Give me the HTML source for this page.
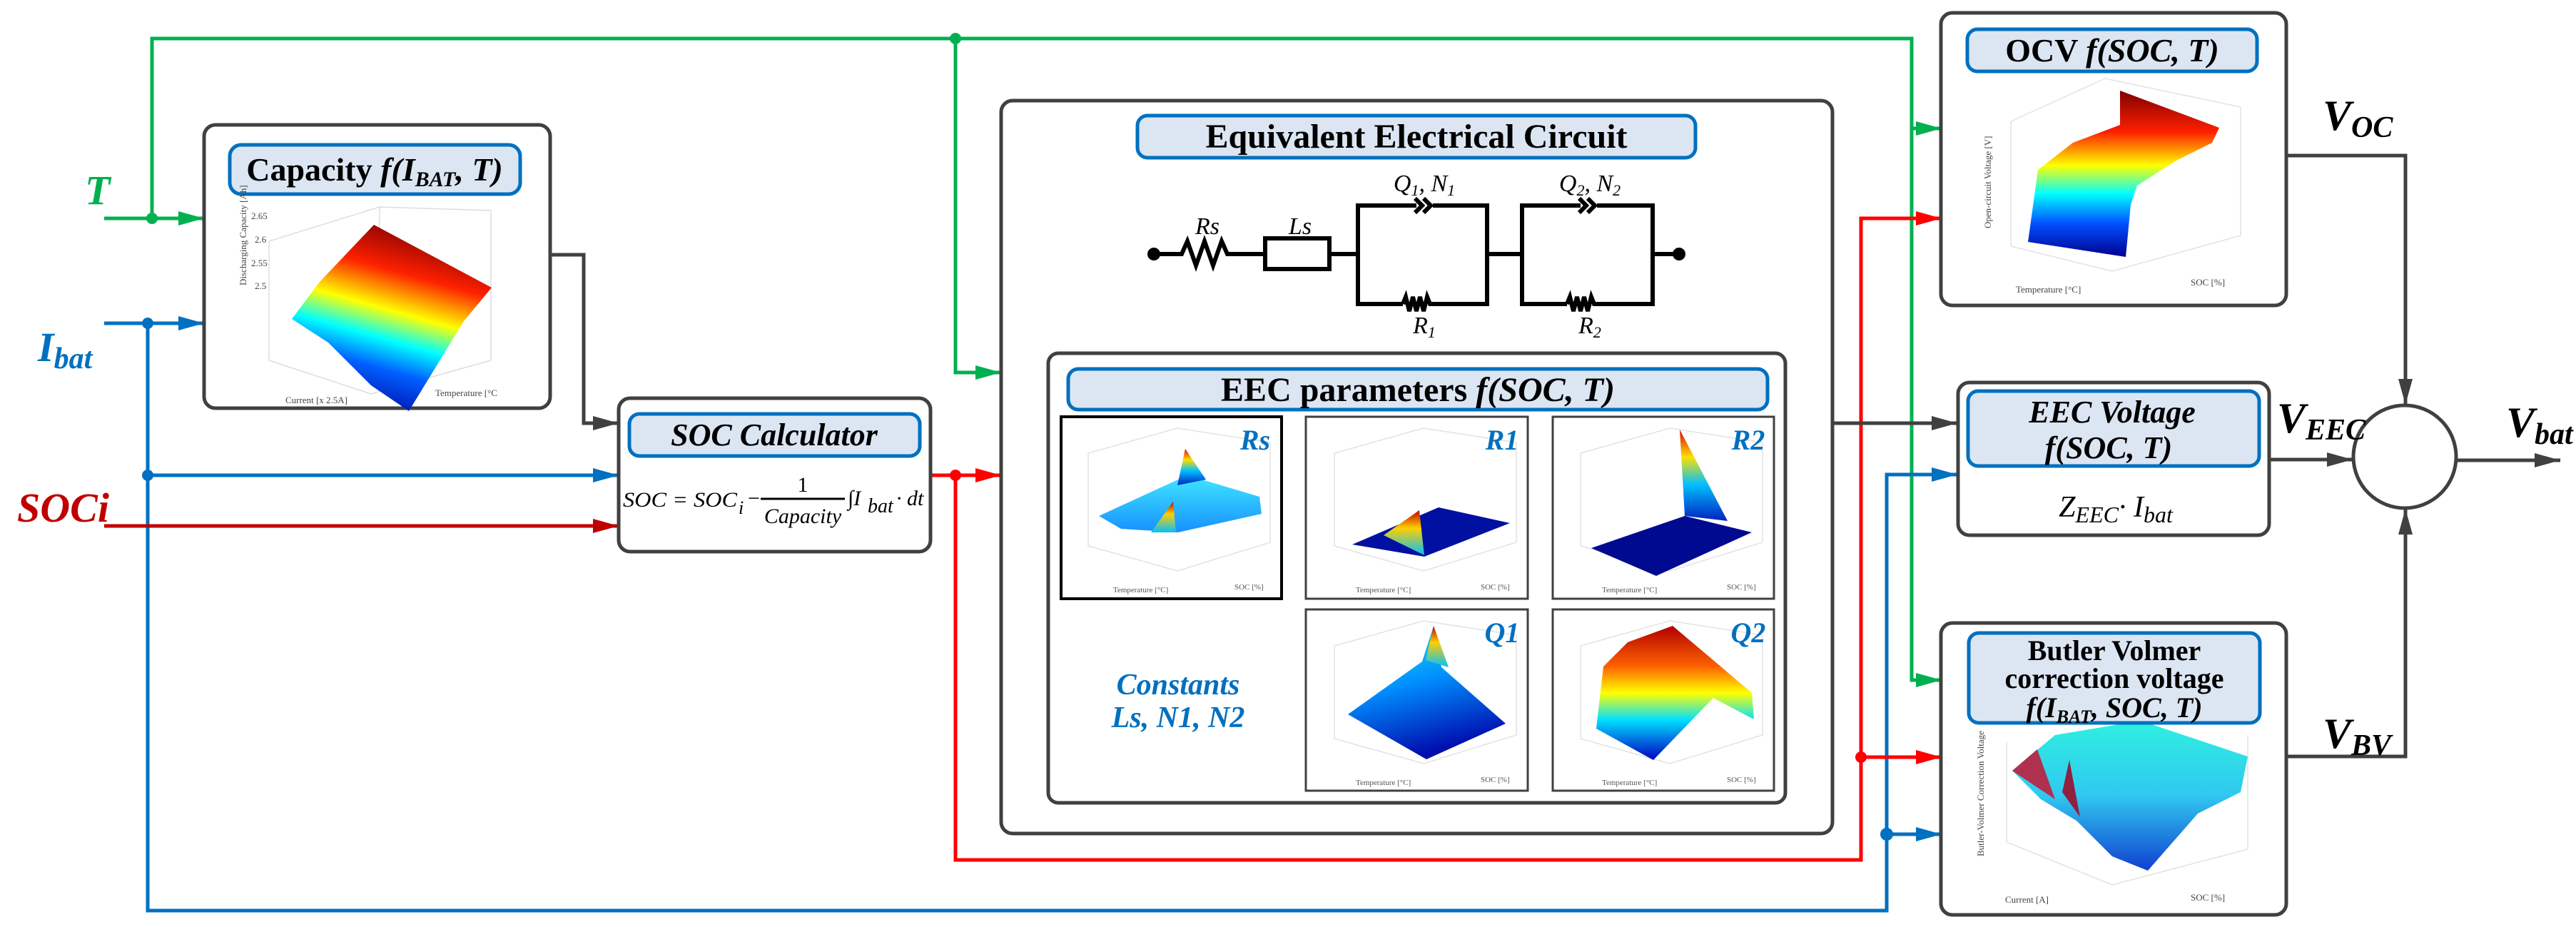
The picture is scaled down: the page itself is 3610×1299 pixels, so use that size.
<!DOCTYPE html>
<html><head><meta charset="utf-8"><style>
html,body{margin:0;padding:0;background:#fff}
svg{display:block}
</style></head><body>
<svg width="3610" height="1299" viewBox="0 0 3610 1299" xmlns="http://www.w3.org/2000/svg" font-family="Liberation Serif, serif">
<defs>
<linearGradient id="jetV" x1="0" y1="1" x2="0" y2="0">
<stop offset="0" stop-color="#00008f"/><stop offset="0.2" stop-color="#0050ff"/><stop offset="0.38" stop-color="#00ffff"/><stop offset="0.55" stop-color="#ffff00"/><stop offset="0.75" stop-color="#ff2000"/><stop offset="1" stop-color="#800000"/></linearGradient>
<linearGradient id="capG" x1="0.3" y1="1" x2="0.6" y2="0">
<stop offset="0" stop-color="#0000a0"/><stop offset="0.25" stop-color="#0060ff"/><stop offset="0.4" stop-color="#00ffff"/><stop offset="0.55" stop-color="#ffff00"/><stop offset="0.75" stop-color="#ff2000"/><stop offset="1" stop-color="#800000"/></linearGradient>
<linearGradient id="cyanG" x1="0" y1="0" x2="0" y2="1"><stop offset="0" stop-color="#40e8ff"/><stop offset="1" stop-color="#1890ff"/></linearGradient>
<linearGradient id="peak" x1="0" y1="0" x2="0" y2="1"><stop offset="0" stop-color="#c00000"/><stop offset="0.4" stop-color="#ffd000"/><stop offset="1" stop-color="#00c0ff"/></linearGradient>
<linearGradient id="spike" x1="0" y1="0" x2="0" y2="1"><stop offset="0" stop-color="#e00000"/><stop offset="0.3" stop-color="#ffe000"/><stop offset="0.6" stop-color="#00c0ff"/><stop offset="1" stop-color="#0020c0"/></linearGradient>
<linearGradient id="q1G" x1="0" y1="0" x2="0.3" y2="1"><stop offset="0" stop-color="#20f0e0"/><stop offset="0.5" stop-color="#0090ff"/><stop offset="1" stop-color="#0010b0"/></linearGradient>
<linearGradient id="q2G" x1="0" y1="0" x2="0" y2="1"><stop offset="0" stop-color="#b00000"/><stop offset="0.3" stop-color="#ff6000"/><stop offset="0.5" stop-color="#ffff00"/><stop offset="0.7" stop-color="#00e0ff"/><stop offset="1" stop-color="#0000c0"/></linearGradient>
<linearGradient id="bvG" x1="0" y1="0" x2="0" y2="1"><stop offset="0" stop-color="#30f0e0"/><stop offset="0.5" stop-color="#30c8f0"/><stop offset="1" stop-color="#1040d0"/></linearGradient>
</defs>

<g fill="none" stroke-width="5" stroke-linejoin="miter">
<polyline points="146,306 286,306" stroke="#00b050"/>
<polyline points="213,306 213,54 2679,54 2679,953 2721,953" stroke="#00b050"/>
<polyline points="2679,180 2721,180" stroke="#00b050"/>
<polyline points="1339,54 1339,522 1403,522" stroke="#00b050"/>
<polyline points="146,453 286,453" stroke="#0070c0"/>
<polyline points="207,453 207,1276 2644,1276 2644,665 2743,665" stroke="#0070c0"/>
<polyline points="207,666 867,666" stroke="#0070c0"/>
<polyline points="2644,1169 2721,1169" stroke="#0070c0"/>
<polyline points="146,737 867,737" stroke="#c00000"/>
<polyline points="1304,666 1403,666" stroke="#ff0000"/>
<polyline points="1339,666 1339,1205 2608,1205 2608,306 2721,306" stroke="#ff0000"/>
<polyline points="2608,1061 2721,1061" stroke="#ff0000"/>
<polyline points="771,357 818,357 818,593 867,593" stroke="#404040"/>
<polyline points="2568,593 2743,593" stroke="#404040"/>
<polyline points="3204,218 3371,218 3371,567" stroke="#404040"/>
<polyline points="3180,644 3297,644" stroke="#404040"/>
<polyline points="3204,1060 3371,1060 3371,713" stroke="#404040"/>
<polyline points="3443,645 3588,645" stroke="#404040"/>
</g>
<g>
<path d="M286,306l-36,-10v20z" fill="#00b050"/>
<path d="M1403,522l-36,-10v20z" fill="#00b050"/>
<path d="M2721,180l-36,-10v20z" fill="#00b050"/>
<path d="M2721,953l-36,-10v20z" fill="#00b050"/>
<path d="M286,453l-36,-10v20z" fill="#0070c0"/>
<path d="M867,666l-36,-10v20z" fill="#0070c0"/>
<path d="M2743,665l-36,-10v20z" fill="#0070c0"/>
<path d="M2721,1169l-36,-10v20z" fill="#0070c0"/>
<path d="M867,737l-36,-10v20z" fill="#c00000"/>
<path d="M1403,666l-36,-10v20z" fill="#ff0000"/>
<path d="M2721,306l-36,-10v20z" fill="#ff0000"/>
<path d="M2721,1061l-36,-10v20z" fill="#ff0000"/>
<path d="M867,593l-36,-10v20z" fill="#404040"/>
<path d="M2743,593l-36,-10v20z" fill="#404040"/>
<path d="M3297,644l-36,-10v20z" fill="#404040"/>
<path d="M3588,645l-36,-10v20z" fill="#404040"/>
<path d="M3371,567l-10,-36h20z" fill="#404040"/>
<path d="M3371,713l-10,36h20z" fill="#404040"/>
<circle cx="213" cy="306" r="8" fill="#00b050"/>
<circle cx="1339" cy="54" r="8" fill="#00b050"/>
<circle cx="207" cy="453" r="8" fill="#0070c0"/>
<circle cx="207" cy="666" r="8" fill="#0070c0"/>
<circle cx="2644" cy="1169" r="9" fill="#0070c0"/>
<circle cx="1339" cy="666" r="8" fill="#ff0000"/>
<circle cx="2608" cy="1061" r="8" fill="#ff0000"/>
</g>

<text x="119" y="286" font-size="58" font-weight="bold" font-style="italic" fill="#00b050">T</text>
<text x="53" y="506" font-size="58" font-weight="bold" font-style="italic" fill="#0070c0">I<tspan font-size="42" dy="10">bat</tspan></text>
<text x="24" y="731" font-size="58" font-weight="bold" font-style="italic" fill="#c00000">SOCi</text>

<rect x="286" y="175" width="485" height="397" rx="16" fill="#fff" stroke="#404040" stroke-width="5"/>
<rect x="322" y="203" width="407" height="69" rx="16" fill="#dce6f2" stroke="#0070c0" stroke-width="5"/>
<text x="525" y="253" font-size="46" font-weight="bold" text-anchor="middle">Capacity <tspan font-style="italic">f(I<tspan font-size="30" dy="8">BAT</tspan><tspan dy="-8">, T)</tspan></tspan></text>
<g stroke="#ddd" stroke-width="1.5" fill="none"><path d="M377,338L377,505 520,552 688,505 688,295"/><path d="M377,338L532,290 688,295"/><path d="M532,290V445"/></g>
<path d="M409,447 L448,395 524,315 689,403 650,450 573,576 520,540 460,480Z" fill="url(#capG)"/>
<g font-size="13" fill="#444"><text x="352" y="307">2.65</text><text x="357" y="340">2.6</text><text x="352" y="373">2.55</text><text x="357" y="405">2.5</text><text x="400" y="565">Current [x 2.5A]</text><text x="610" y="555">Temperature [°C</text><text x="345" y="400" transform="rotate(-90 345 400)">Discharging Capacity [Ah]</text></g>

<rect x="867" y="558" width="437" height="215" rx="16" fill="#fff" stroke="#404040" stroke-width="5"/>
<rect x="882" y="580" width="407" height="59" rx="14" fill="#dce6f2" stroke="#0070c0" stroke-width="5"/>
<text x="1085" y="624" font-size="44" font-weight="bold" font-style="italic" text-anchor="middle">SOC Calculator</text>
<g font-size="30" font-style="italic">
<text x="873" y="710" textLength="160" lengthAdjust="spacingAndGlyphs">SOC  = SOC</text>
<text x="1035" y="720" font-size="26">i</text><text x="1048" y="708" font-style="normal">−</text>
<line x1="1066" y1="699" x2="1184" y2="699" stroke="#000" stroke-width="3"/>
<text x="1125" y="689" font-style="normal" text-anchor="middle">1</text>
<text x="1125" y="733" text-anchor="middle">Capacity</text>
<text x="1188" y="708">∫I</text><text x="1216" y="718" font-size="28">bat</text><text x="1256" y="708"> · dt</text></g>

<rect x="1403" y="141" width="1165" height="1027" rx="16" fill="#fff" stroke="#404040" stroke-width="5"/>
<rect x="1594" y="162" width="782" height="59" rx="14" fill="#dce6f2" stroke="#0070c0" stroke-width="5"/>
<text x="1985" y="207" font-size="48" font-weight="bold" text-anchor="middle">Equivalent Electrical Circuit</text>
<g fill="none" stroke="#000" stroke-width="6" stroke-linejoin="miter">
<path d="M1617,356H1656l8,-18 12,34 12,-34 12,34 12,-34 8,18H1773"/>
<rect x="1773" y="334" width="90" height="43"/>
<path d="M1863,356H1903"/>
<path d="M1985,288H1903V426H1966"/>
<path d="M2008,288H2084V426H2027"/>
<path d="M1966,426l4,-10 5,20 5,-20 5,20 5,-20 5,20 5,-20 4,10H2027"/>
<path d="M1983,278l10,10 -10,10M1995,278l10,10 -10,10"/>
<path d="M2084,356H2133"/>
<path d="M2215,288H2133V426H2196"/>
<path d="M2238,288H2316V426H2257"/>
<path d="M2196,426l4,-10 5,20 5,-20 5,20 5,-20 5,20 5,-20 4,10H2257"/>
<path d="M2213,278l10,10 -10,10M2225,278l10,10 -10,10"/>
<path d="M2316,356H2353"/>
</g>
<circle cx="1617" cy="356" r="9"/><circle cx="2353" cy="356" r="9"/>
<g font-size="34" font-style="italic">
<text x="1692" y="328" text-anchor="middle">Rs</text>
<text x="1822" y="328" text-anchor="middle">Ls</text>
<text x="1996" y="268" text-anchor="middle">Q<tspan font-size="22" dy="6">1</tspan><tspan dy="-6">, N</tspan><tspan font-size="22" dy="6">1</tspan></text>
<text x="2228" y="268" text-anchor="middle">Q<tspan font-size="22" dy="6">2</tspan><tspan dy="-6">, N</tspan><tspan font-size="22" dy="6">2</tspan></text>
<text x="1996" y="467" text-anchor="middle">R<tspan font-size="22" dy="6">1</tspan></text>
<text x="2228" y="467" text-anchor="middle">R<tspan font-size="22" dy="6">2</tspan></text>
</g>

<rect x="1469" y="495" width="1033" height="630" rx="14" fill="#fff" stroke="#404040" stroke-width="5"/>
<rect x="1497" y="517" width="980" height="57" rx="14" fill="#dce6f2" stroke="#0070c0" stroke-width="5"/>
<text x="1987" y="562" font-size="48" font-weight="bold" text-anchor="middle">EEC parameters  <tspan font-style="italic">f(SOC, T)</tspan></text>

<g fill="#fff">
<rect x="1487" y="584" width="309" height="255" stroke="#000" stroke-width="4"/>
<rect x="1830" y="584" width="311" height="255" stroke="#404040" stroke-width="3"/>
<rect x="2176" y="584" width="310" height="255" stroke="#404040" stroke-width="3"/>
<rect x="1830" y="854" width="311" height="254" stroke="#404040" stroke-width="3"/>
<rect x="2176" y="854" width="310" height="254" stroke="#404040" stroke-width="3"/>
</g>
<g stroke="#e2e2e2" stroke-width="1.5" fill="none">
<path d="M1525,635V765L1650,800 1780,760V620M1525,635L1650,600 1780,620"/>
<path d="M1870,635V765L1995,800 2125,760V620M1870,635L1995,600 2125,620"/>
<path d="M2215,635V765L2340,800 2470,760V620M2215,635L2340,600 2470,620"/>
<path d="M1870,905V1035L1995,1070 2125,1030V890M1870,905L1995,870 2125,890"/>
<path d="M2215,905V1035L2340,1070 2470,1030V890M2215,905L2340,870 2470,890"/>
</g>
<path d="M1540,723 1664,666 1765,696 1768,720 1651,746 1571,741Z" fill="url(#cyanG)"/>
<path d="M1650,680 1661,629 1690,672Z" fill="url(#spike)"/>
<path d="M1613,746 1644,703 1648,746Z" fill="url(#peak)"/>
<path d="M1895,763 2016,711 2116,733 1996,780Z" fill="#0010a0"/>
<path d="M1939,750 1989,715 1996,778Z" fill="url(#peak)"/>
<path d="M2230,768 2361,723 2455,746 2321,807Z" fill="#000a90"/>
<path d="M2354,602 2361,723 2421,730Z" fill="url(#spike)"/>
<path d="M1889,1001 1993,927 2009,877 2020,935 2110,1014 1999,1064Z" fill="url(#q1G)"/>
<path d="M2009,877 1998,925 2030,935Z" fill="url(#peak)"/>
<path d="M2247,934 2281,900 2344,877 2415,937 2455,971 2458,1008 2401,978 2317,1065 2237,1021Z" fill="url(#q2G)"/>
<g font-size="40" font-weight="bold" font-style="italic" fill="#0070c0" text-anchor="middle">
<text x="1759" y="630">Rs</text><text x="2105" y="630">R1</text><text x="2450" y="630">R2</text>
<text x="2105" y="900">Q1</text><text x="2450" y="900">Q2</text>
<text x="1651" y="973" font-size="42">Constants</text><text x="1651" y="1019" font-size="42">Ls, N1, N2</text>
</g>
<g font-size="11" fill="#555">
<text x="1560" y="830">Temperature [°C]</text><text x="1730" y="826">SOC [%]</text>
<text x="1900" y="830">Temperature [°C]</text><text x="2075" y="826">SOC [%]</text>
<text x="2245" y="830">Temperature [°C]</text><text x="2420" y="826">SOC [%]</text>
<text x="1900" y="1100">Temperature [°C]</text><text x="2075" y="1096">SOC [%]</text>
<text x="2245" y="1100">Temperature [°C]</text><text x="2420" y="1096">SOC [%]</text>
</g>

<rect x="2720" y="18" width="484" height="410" rx="16" fill="#fff" stroke="#404040" stroke-width="5"/>
<rect x="2757" y="41" width="406" height="59" rx="14" fill="#dce6f2" stroke="#0070c0" stroke-width="5"/>
<text x="2960" y="86" font-size="46" font-weight="bold" text-anchor="middle">OCV  <tspan font-style="italic">f(SOC, T)</tspan></text>
<g stroke="#e2e2e2" stroke-width="1.5" fill="none"><path d="M2818,170V345L2960,380 3140,330V150M2818,170L2950,110 3140,150"/></g>
<path d="M2856,238 2905,200 2971,175 2971,127 3110,179 3100,200 3050,225 2995,260 2986,287 2979,360 2842,339Z" fill="url(#jetV)"/>
<g font-size="13" fill="#444"><text x="2825" y="410">Temperature [°C]</text><text x="3070" y="400">SOC [%]</text><text x="2790" y="320" transform="rotate(-90 2790 320)">Open-circuit Voltage [V]</text></g>

<rect x="2744" y="536" width="436" height="214" rx="16" fill="#fff" stroke="#404040" stroke-width="5"/>
<rect x="2758" y="548" width="408" height="105" rx="14" fill="#dce6f2" stroke="#0070c0" stroke-width="5"/>
<g font-size="44" font-weight="bold" font-style="italic" text-anchor="middle"><text x="2960" y="592">EEC Voltage</text><text x="2955" y="642">f(SOC, T)</text></g>
<text x="2965" y="724" font-size="42" font-style="italic" text-anchor="middle">Z<tspan font-size="32" dy="8">EEC</tspan><tspan dy="-8">· I</tspan><tspan font-size="32" dy="8">bat</tspan></text>

<rect x="2720" y="873" width="484" height="409" rx="16" fill="#fff" stroke="#404040" stroke-width="5"/>
<g stroke="#e2e2e2" stroke-width="1.5" fill="none"><path d="M2812,1040V1180L2960,1240 3150,1190V1030"/></g>
<path d="M2820,1080 L2880,1030 3000,1010 3150,1060 3140,1110 3080,1140 3010,1220 2960,1200 2910,1150 2860,1120Z" fill="url(#bvG)"/>
<path d="M2820,1080 2855,1050 2880,1120Z" fill="#b03050"/>
<path d="M2890,1110 2900,1065 2915,1145Z" fill="#902040"/>
<rect x="2759" y="887" width="408" height="126" rx="14" fill="#dce6f2" stroke="#0070c0" stroke-width="5"/>
<g font-size="40" font-weight="bold" text-anchor="middle"><text x="2963" y="925">Butler Volmer</text><text x="2963" y="964">correction voltage</text>
<text x="2963" y="1005" font-style="italic">f(I<tspan font-size="26" dy="8">BAT</tspan><tspan dy="-8">, SOC, T)</tspan></text></g>
<g font-size="13" fill="#444"><text x="2810" y="1265">Current [A]</text><text x="3070" y="1262">SOC [%]</text><text x="2780" y="1200" transform="rotate(-90 2780 1200)">Butler-Volmer Correction Voltage</text></g>

<circle cx="3370" cy="640" r="72" fill="#fff" stroke="#404040" stroke-width="5"/>
<g font-weight="bold" font-style="italic">
<text x="3255" y="182" font-size="60">V<tspan font-size="42" dy="10">OC</tspan></text>
<text x="3191" y="606" font-size="60">V<tspan font-size="42" dy="10">EEC</tspan></text>
<text x="3512" y="612" font-size="60">V<tspan font-size="42" dy="10">bat</tspan></text>
<text x="3255" y="1048" font-size="60">V<tspan font-size="42" dy="10">BV</tspan></text>
</g>
</svg>
</body></html>
